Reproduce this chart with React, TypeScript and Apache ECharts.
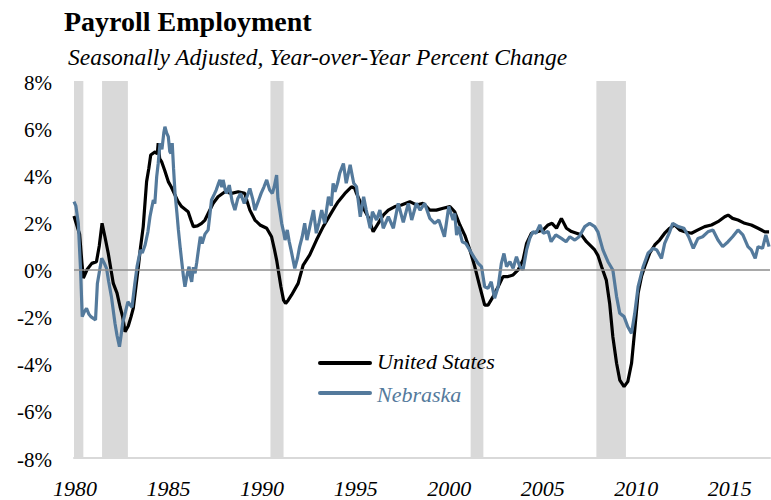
import React, { useEffect, useRef } from "react";
import * as echarts from "echarts";

const TITLE = "Payroll Employment";
const SUBTITLE = "Seasonally Adjusted, Year-over-Year Percent Change";
const SERIES_NAMES = ["United States", "Nebraska"];
const xTickLabels = [1980, 1985, 1990, 1995, 2000, 2005, 2010, 2015];
const yTickLabels = [8, 6, 4, 2, 0, -2, -4, -6, -8];

// Recession periods (decimal years)
const recessionStart = [1980.0, 1981.5, 1990.5, 2001.2, 2007.92];
const recessionEnd = [1980.5, 1982.88, 1991.2, 2001.88, 2009.5];

// United States: year-over-year % change
const usYears = [
  1980.0, 1980.1, 1980.3, 1980.42, 1980.5, 1980.7, 1980.95, 1981.2, 1981.35, 1981.5,
  1981.65, 1981.83, 1982.1, 1982.3, 1982.46, 1982.6, 1982.73, 1982.9, 1983.05, 1983.17,
  1983.3, 1983.44, 1983.55, 1983.7, 1983.88, 1984.0, 1984.1, 1984.34, 1984.45, 1984.5,
  1984.58, 1984.68, 1984.85, 1985.04, 1985.2, 1985.4, 1985.55, 1985.75, 1986.1, 1986.25,
  1986.38, 1986.6, 1986.82, 1987.0, 1987.17, 1987.44, 1987.7, 1988.07, 1988.42, 1988.78,
  1989.13, 1989.25, 1989.4, 1989.67, 1989.94, 1990.3, 1990.56, 1990.7, 1990.83, 1991.06,
  1991.2, 1991.31, 1991.45, 1991.63, 1991.98, 1992.25, 1992.6, 1992.96, 1993.32, 1993.68,
  1993.95, 1994.12, 1994.48, 1994.83, 1995.0, 1995.1, 1995.37, 1995.72, 1995.99, 1996.26,
  1996.53, 1996.8, 1997.15, 1997.5, 1997.95, 1998.3, 1998.66, 1999.02, 1999.37, 1999.73,
  2000.09, 2000.35, 2000.62, 2000.89, 2001.16, 2001.42, 2001.69, 2001.95, 2002.13, 2002.4,
  2002.67, 2002.93, 2003.2, 2003.47, 2003.74, 2004.0, 2004.19, 2004.45, 2004.81, 2005.08,
  2005.34, 2005.55, 2005.79, 2006.05, 2006.32, 2006.59, 2006.86, 2007.12, 2007.39, 2007.66,
  2007.83, 2008.0, 2008.2, 2008.45, 2008.63, 2008.8, 2009.0, 2009.17, 2009.4, 2009.6,
  2009.8, 2009.97, 2010.15, 2010.33, 2010.5, 2010.77, 2011.04, 2011.3, 2011.57, 2011.84,
  2012.1, 2012.37, 2012.64, 2013.0, 2013.35, 2013.71, 2014.07, 2014.42, 2014.78, 2014.96,
  2015.2, 2015.49, 2015.85, 2016.2, 2016.56, 2016.92, 2017.15,
];
const usValues = [
  2.27, 2.0, 1.5, 0.3, -0.36, 0.0, 0.26, 0.33, 1.0, 1.96,
  1.4, 0.69, -0.59, -1.0, -1.58, -2.0, -2.64, -2.4, -2.0, -1.64,
  -0.8, 0.12, 0.9, 1.82, 3.73, 4.3, 4.86, 5.0, 4.9, 5.36,
  4.7, 4.58, 4.2, 3.73, 3.5, 3.16, 2.9, 2.67, 2.45, 2.1,
  1.82, 1.85, 1.96, 2.1, 2.38, 2.81, 3.09, 3.3, 3.23, 3.3,
  3.23, 2.9, 2.52, 2.1, 1.89, 1.75, 1.39, 0.9, 0.4, -0.73,
  -1.3, -1.44, -1.3, -1.08, -0.59, 0.19, 0.62, 1.25, 1.82, 2.31,
  2.67, 2.88, 3.23, 3.51, 3.45, 3.23, 2.74, 2.24, 1.6, 1.96,
  2.31, 2.52, 2.67, 2.74, 2.88, 2.74, 2.81, 2.52, 2.52, 2.6,
  2.67, 2.45, 1.9, 1.45, 0.83, 0.12, -0.73, -1.51, -1.51, -1.15,
  -0.73, -0.3, -0.3, -0.23, -0.02, 0.4, 1.11, 1.54, 1.61, 1.68,
  1.89, 1.96, 1.75, 2.17, 1.75, 1.61, 1.54, 1.47, 1.18, 0.97,
  0.83, 0.6, 0.12, -0.45, -1.44, -2.85, -3.98, -4.69, -4.97, -4.76,
  -3.98, -2.57, -1.01, -0.3, 0.12, 0.69, 1.04, 1.25, 1.54, 1.75,
  1.89, 1.68, 1.6, 1.54, 1.68, 1.82, 1.89, 2.03, 2.24, 2.31,
  2.17, 2.1, 1.96, 1.89, 1.75, 1.6, 1.6,
];

// Nebraska: year-over-year % change
const neYears = [
  1980.0, 1980.1, 1980.23, 1980.35, 1980.44, 1980.55, 1980.67, 1980.8, 1980.9, 1981.15,
  1981.25, 1981.4, 1981.48, 1981.6, 1981.74, 1981.85, 1982.0, 1982.19, 1982.3, 1982.43,
  1982.5, 1982.6, 1982.75, 1982.88, 1983.0, 1983.1, 1983.25, 1983.37, 1983.55, 1983.65,
  1983.8, 1983.95, 1984.06, 1984.15, 1984.24, 1984.32, 1984.42, 1984.5, 1984.6, 1984.7,
  1984.8, 1984.86, 1984.95, 1985.04, 1985.12, 1985.18, 1985.25, 1985.32, 1985.4, 1985.5,
  1985.58, 1985.68, 1985.75, 1985.85, 1985.93, 1986.05, 1986.15, 1986.22, 1986.29, 1986.38,
  1986.47, 1986.56, 1986.65, 1986.75, 1986.85, 1987.0, 1987.17, 1987.25, 1987.35, 1987.5,
  1987.6, 1987.7, 1987.8, 1987.9, 1987.97, 1988.08, 1988.15, 1988.3, 1988.45, 1988.6,
  1988.75, 1988.9, 1989.1, 1989.25, 1989.4, 1989.55, 1989.67, 1989.85, 1990.0, 1990.15,
  1990.3, 1990.46, 1990.6, 1990.7, 1990.83, 1990.9, 1991.0, 1991.1, 1991.2, 1991.28,
  1991.4, 1991.5, 1991.6, 1991.8, 1991.95, 1992.06, 1992.2, 1992.33, 1992.45, 1992.6,
  1992.8, 1992.95, 1993.1, 1993.24, 1993.4, 1993.6, 1993.75, 1993.85, 1993.95, 1994.1,
  1994.2, 1994.4, 1994.55, 1994.76, 1994.95, 1995.1, 1995.3, 1995.48, 1995.62, 1995.83,
  1995.95, 1996.17, 1996.35, 1996.53, 1996.8, 1997.07, 1997.33, 1997.6, 1997.87, 1998.05,
  1998.3, 1998.5, 1998.74, 1999.02, 1999.28, 1999.5, 1999.8, 2000.03, 2000.26, 2000.35,
  2000.45, 2000.55, 2000.75, 2000.95, 2001.2, 2001.42, 2001.6, 2001.78, 2001.95, 2002.13,
  2002.3, 2002.48, 2002.67, 2002.84, 2002.98, 2003.12, 2003.3, 2003.47, 2003.65, 2003.83,
  2004.0, 2004.19, 2004.36, 2004.53, 2004.7, 2004.9, 2005.08, 2005.34, 2005.5, 2005.75,
  2006.05, 2006.3, 2006.5, 2006.77, 2007.0, 2007.3, 2007.56, 2007.83, 2008.0, 2008.27,
  2008.54, 2008.8, 2009.0, 2009.17, 2009.4, 2009.6, 2009.8, 2009.97, 2010.15, 2010.42,
  2010.68, 2010.95, 2011.15, 2011.4, 2011.57, 2011.84, 2012.0, 2012.3, 2012.6, 2012.85,
  2013.1, 2013.35, 2013.6, 2013.88, 2014.15, 2014.42, 2014.67, 2014.96, 2015.2, 2015.49,
  2015.75, 2016.02, 2016.2, 2016.41, 2016.56, 2016.8, 2016.98, 2017.15,
];
const neValues = [
  2.88, 2.7, 1.96, 0.0, -2.0, -1.8, -1.65, -1.9, -2.0, -2.14,
  -0.59, 0.1, 0.48, 0.3, 0.05, -0.5, -1.15, -2.28, -2.8, -3.28,
  -2.9, -2.28, -1.8, -1.37, -1.5, -1.6, -0.6, 0.12, 0.83, 0.7,
  1.04, 1.6, 2.24, 2.6, 2.95, 2.8, 3.94, 4.5, 5.36, 5.1,
  5.8, 6.06, 5.8, 5.64, 5.0, 4.93, 5.36, 4.3, 3.23, 2.4,
  1.68, 0.9, 0.4, -0.3, -0.73, -0.2, 0.12, -0.3, -0.52, 0.1,
  -0.16, 0.3, 0.83, 1.39, 1.1, 1.5, 1.68, 2.24, 2.95, 3.2,
  3.37, 3.6, 3.8, 3.5, 3.8, 3.4, 3.23, 3.58, 2.9, 2.52,
  3.0, 3.23, 2.8, 3.1, 3.44, 3.0, 2.52, 2.9, 3.23, 3.5,
  3.8, 3.37, 3.23, 3.5, 4.01, 3.0, 2.5, 1.96, 1.6, 1.25,
  1.68, 1.2, 0.83, 0.05, 0.5, 0.97, 1.4, 1.96, 1.25, 1.8,
  2.52, 1.54, 2.0, 2.52, 1.96, 3.09, 2.7, 3.66, 3.3, 3.7,
  4.08, 4.5, 3.66, 4.44, 3.66, 3.51, 2.24, 3.09, 2.52, 1.75,
  2.45, 2.1, 2.52, 1.75, 2.24, 1.75, 2.81, 2.0, 2.81, 2.1,
  2.81, 2.52, 2.81, 2.17, 1.96, 2.1, 1.39, 2.67, 2.1, 2.38,
  1.46, 1.82, 1.18, 1.1, 0.76, 0.47, 0.26, 0.12, -0.73, -0.8,
  -0.52, -1.22, -0.73, 0.26, 0.68, 0.12, 0.33, 0.05, 0.54, 0.12,
  -0.02, 0.83, 1.32, 1.61, 1.54, 1.89, 1.54, 1.61, 1.18, 1.47,
  1.32, 1.18, 1.39, 1.25, 1.39, 1.82, 1.96, 1.82, 1.6, 0.83,
  0.33, -0.02, -1.15, -1.86, -2.0, -2.43, -2.71, -1.86, -0.73, 0.12,
  0.69, 0.9, 0.83, 0.47, 1.11, 1.6, 1.96, 1.82, 1.75, 1.39,
  0.9, 1.32, 1.39, 1.6, 1.68, 1.25, 0.97, 1.18, 1.39, 1.68,
  1.47, 0.97, 0.83, 0.47, 0.97, 0.9, 1.47, 0.97,
];

const X_MIN = 1980;
const X_MAX = 2017.2;
const NE_COLOR = "#547a9c";
const FONT = "Liberation Serif";

function txt(text: string, x: number, y: number, size: number, italic: boolean, fill: string, align: string) {
  const style: any = {
    text,
    fontFamily: FONT,
    fontSize: size,
    fill,
    align,
    textAlign: align,
    verticalAlign: "middle",
    textVerticalAlign: "middle",
  };
  if (italic) style.fontStyle = "italic";
  return { type: "text", x, y, silent: true, z: 10, style };
}

export default function App() {
  const ref = useRef<HTMLDivElement>(null);

  useEffect(() => {
    if (!ref.current) return;
    const chart = echarts.init(ref.current, null, { renderer: "svg" });
    const zip = (xs: number[], ys: number[]) => xs.map((x, i) => [x, ys[i]]);

    chart.setOption({
      animation: false,
      backgroundColor: "#ffffff",
      title: {
        text: TITLE,
        left: 64,
        top: 7,
        padding: 0,
        textStyle: { fontFamily: FONT, fontWeight: "bold", fontSize: 28, color: "#000" },
      },
      grid: { left: 74, right: 1, top: 81, bottom: 42, containLabel: false },
      xAxis: {
        type: "value",
        min: X_MIN,
        max: X_MAX,
        interval: 5,
        axisLine: { show: true, onZero: false, lineStyle: { color: "#d9d9d9", width: 2 } },
        axisTick: { show: false },
        splitLine: { show: false },
        axisLabel: { show: false },
      },
      yAxis: {
        type: "value",
        min: -8,
        max: 8,
        interval: 2,
        axisLine: { show: false },
        axisTick: { show: false },
        splitLine: { show: false },
        axisLabel: { show: false },
      },
      series: [
        {
          name: "recessions",
          type: "line",
          data: [],
          z: 1,
          silent: true,
          markArea: {
            silent: true,
            itemStyle: { color: "#d9d9d9" },
            data: recessionStart.map((s, i) => [{ xAxis: s }, { xAxis: recessionEnd[i] }]),
          },
          markLine: {
            silent: true,
            symbol: "none",
            label: { show: false },
            lineStyle: { color: "#8c8c8c", width: 1.5, type: "solid" },
            data: [{ yAxis: 0 }],
          },
        },
        {
          name: SERIES_NAMES[0],
          type: "line",
          data: zip(usYears, usValues),
          showSymbol: false,
          symbol: "none",
          z: 3,
          lineStyle: { color: "#000", width: 3.2 },
          itemStyle: { color: "#000" },
        },
        {
          name: SERIES_NAMES[1],
          type: "line",
          data: zip(neYears, neValues),
          showSymbol: false,
          symbol: "none",
          z: 4,
          lineStyle: { color: NE_COLOR, width: 3.2 },
          itemStyle: { color: NE_COLOR },
        },
      ],
    });

    const elements: any[] = [];
    try {
      const toPx = (x: number, y: number) => chart.convertToPixel({ gridIndex: 0 } as any, [x, y]) as number[];
      const bottomY = toPx(X_MIN, -8)[1];
      const leftX = toPx(X_MIN, 0)[0];
      xTickLabels.forEach((v) => {
        const p = toPx(v, 0);
        elements.push(txt(String(v), p[0] + 1, bottomY + 30, 22, true, "#000", "center"));
      });
      yTickLabels.forEach((v) => {
        const p = toPx(X_MIN, v);
        elements.push(txt(`${v}%`, leftX - 22, p[1] + 1.5, 21, false, "#000", "right"));
      });
    } catch (e) {
      // ignore
    }

    // subtitle
    elements.push(txt(SUBTITLE, 68, 57, 23.5, true, "#000", "left"));
    // legend
    elements.push({
      type: "line",
      silent: true,
      z: 10,
      shape: { x1: 320, y1: 363, x2: 370, y2: 363 },
      style: { stroke: "#000", lineWidth: 4, lineCap: "round" },
    });
    elements.push({
      type: "line",
      silent: true,
      z: 10,
      shape: { x1: 320, y1: 393, x2: 370, y2: 393 },
      style: { stroke: NE_COLOR, lineWidth: 4, lineCap: "round" },
    });
    elements.push(txt(SERIES_NAMES[0], 377, 361.5, 22, true, "#000", "left"));
    elements.push(txt(SERIES_NAMES[1], 377, 394, 22, true, NE_COLOR, "left"));

    chart.setOption({ graphic: { elements } });

    return () => chart.dispose();
  }, []);

  return (
    <div
      ref={ref}
      style={{ position: "fixed", left: 0, top: 0, width: 771, height: 500, background: "#fff" }}
    />
  );
}
